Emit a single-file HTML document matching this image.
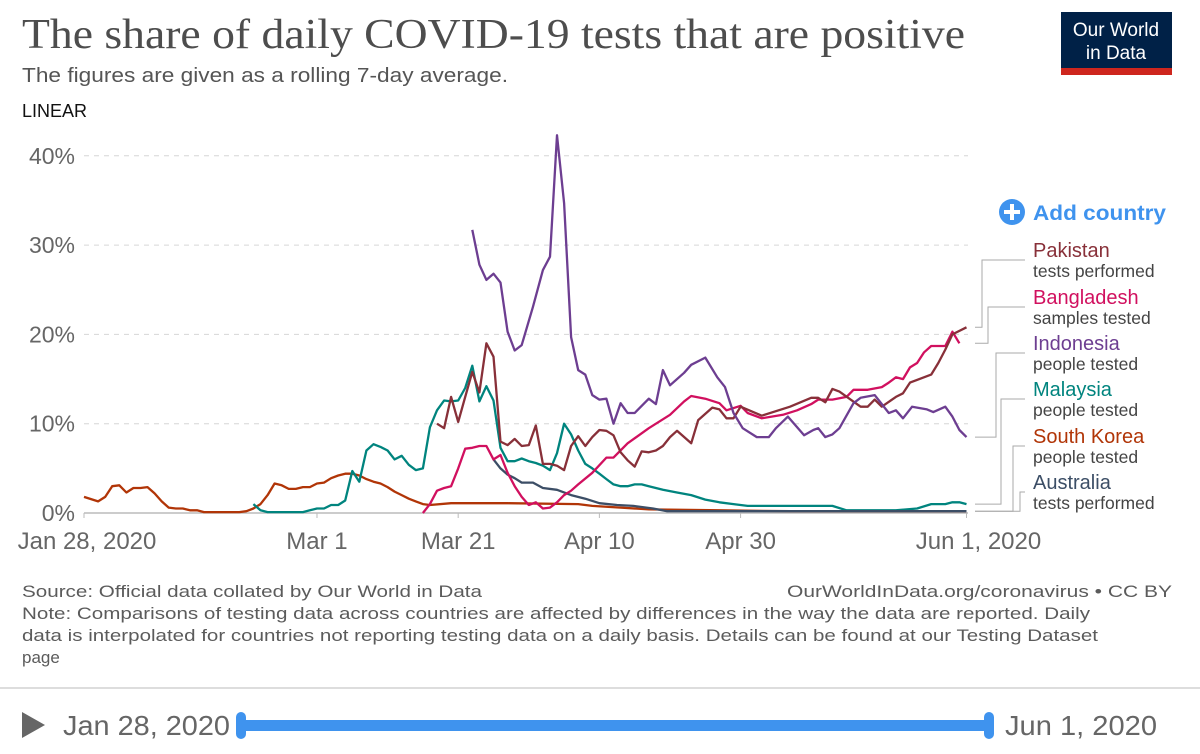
<!DOCTYPE html>
<html><head><meta charset="utf-8"><style>
body{margin:0;background:#fff;}
svg{display:block;font-family:"Liberation Sans",sans-serif;}
</style></head><body>
<svg id="chart" width="1200" height="754" viewBox="0 0 1200 754">
<text x="22" y="48" font-family="Liberation Serif, serif" font-size="42" fill="#4d4d4d" textLength="943" lengthAdjust="spacingAndGlyphs">The share of daily COVID-19 tests that are positive</text>
<text x="22" y="82" font-size="20" fill="#555" textLength="486" lengthAdjust="spacingAndGlyphs">The figures are given as a rolling 7-day average.</text>
<text x="22" y="117" font-size="18" fill="#111">LINEAR</text>
<g>
<rect x="1061" y="12" width="111" height="63" fill="#002147"/>
<rect x="1061" y="68" width="111" height="7" fill="#ce261e"/>
<text x="1116" y="36" font-size="19" fill="#fff" text-anchor="middle">Our World</text>
<text x="1116" y="59" font-size="19" fill="#fff" text-anchor="middle">in Data</text>
</g>
<g>
<circle cx="1012" cy="212" r="13" fill="#3f93ee"/>
<rect x="1004" y="210" width="16" height="4" fill="#fff"/>
<rect x="1010" y="204" width="4" height="16" fill="#fff"/>
<text x="1033" y="220" font-size="21" font-weight="bold" fill="#3f93ee" textLength="133" lengthAdjust="spacingAndGlyphs">Add country</text>
</g>
<g id="grid"></g>
<g id="axes"></g>
<g id="lines"></g>
<g id="legend"></g>
<text x="22" y="597" font-size="17" fill="#5b5b5b" textLength="460" lengthAdjust="spacingAndGlyphs">Source: Official data collated by Our World in Data</text>
<text x="1172" y="597" font-size="17" fill="#5b5b5b" text-anchor="end" textLength="385" lengthAdjust="spacingAndGlyphs">OurWorldInData.org/coronavirus • CC BY</text>
<g font-size="17" fill="#5b5b5b">
<text x="22" y="619" textLength="1068" lengthAdjust="spacingAndGlyphs">Note: Comparisons of testing data across countries are affected by differences in the way the data are reported. Daily</text>
<text x="22" y="641" textLength="1076" lengthAdjust="spacingAndGlyphs">data is interpolated for countries not reporting testing data on a daily basis. Details can be found at our Testing Dataset</text>
<text x="22" y="663">page</text>
</g>
<rect x="0" y="687" width="1200" height="2" fill="#ddd"/>
<polygon points="22,712 22,738 45,725" fill="#666"/>
<text x="63" y="735" font-size="28" fill="#666" textLength="167" lengthAdjust="spacingAndGlyphs">Jan 28, 2020</text>
<rect x="240" y="720" width="750" height="11" rx="3" fill="#3f93ee"/>
<rect x="236" y="712" width="10" height="27" rx="5" fill="#3f93ee"/>
<rect x="984" y="712" width="10" height="27" rx="5" fill="#3f93ee"/>
<text x="1005" y="735" font-size="28" fill="#666" textLength="152" lengthAdjust="spacingAndGlyphs">Jun 1, 2020</text>
</svg>
<script>
const yTicks = [0, 10, 20, 30, 40];
const xTickDays = [0, 33, 53, 73, 93, 125];
const xTickLabels = ["Jan 28, 2020", "Mar 1", "Mar 21", "Apr 10", "Apr 30", "Jun 1, 2020"];

const skDays = [0,2,3,4,5,6,7,8,9,10,11,12,13,14,15,16,17,18,22,23,24,25,26,27,28,29,30,31,32,33,34,35,36,37,38,39,40,41,42,43,44,45,46,47,48,49,52,60,70,72,76,80,90,100,125];
const skVals = [1.8,1.3,1.8,3.0,3.1,2.3,2.8,2.8,2.9,2.2,1.3,0.6,0.5,0.5,0.3,0.3,0.1,0.1,0.1,0.2,0.5,1.0,2.0,3.3,3.1,2.7,2.7,2.9,2.9,3.3,3.4,3.9,4.2,4.4,4.4,4.2,3.8,3.5,3.3,2.9,2.4,2.0,1.6,1.3,1.0,0.9,1.1,1.1,1.0,0.8,0.6,0.4,0.3,0.2,0.2];

const myDays = [24,25,26,31,32,33,34,35,36,37,38,39,40,41,42,43,44,45,46,47,48,49,50,51,52,53,54,55,56,57,58,59,60,61,62,63,64,65,66,67,68,69,70,71,72,73,74,75,76,77,78,79,80,82,84,86,88,90,92,94,100,106,108,115,118,120,122,123,124,125];
const myVals = [1.0,0.3,0.1,0.1,0.3,0.5,0.5,0.9,0.9,1.4,4.7,3.5,7.0,7.7,7.4,7.0,6.0,6.4,5.4,4.8,5.0,9.6,11.5,12.6,12.5,12.6,14.0,16.5,12.5,14.2,12.6,7.3,5.8,5.8,6.1,5.8,5.6,5.3,4.8,6.7,10.0,8.8,7.0,5.5,5.0,4.4,3.8,3.2,3.0,3.0,3.2,3.2,3.0,2.6,2.3,2.0,1.5,1.2,1.0,0.8,0.8,0.8,0.3,0.3,0.5,1.0,1.0,1.2,1.2,1.0];

const pkDays = [50,51,52,53,54,55,56,57,58,59,60,61,62,63,64,65,66,67,68,69,70,71,72,73,74,75,76,77,78,79,80,81,82,83,84,86,87,89,90,91,92,93,96,100,103,104,105,106,107,110,111,112,113,115,116,117,120,121,122,123,125];
const pkVals = [10.0,9.5,13.0,10.2,13.0,15.8,13.5,19.0,17.5,8.0,7.6,8.3,7.5,7.6,9.8,5.5,5.5,5.3,4.8,7.5,8.6,7.5,8.5,9.3,9.2,8.7,6.8,5.9,5.2,6.9,6.8,7.0,7.5,8.5,9.2,7.8,10.4,11.8,11.6,10.6,10.6,11.9,10.9,11.9,12.9,12.9,12.4,13.9,13.6,11.9,11.9,12.7,11.9,13.0,13.4,14.6,15.5,16.8,18.3,20.0,20.8];

const bdDays = [48,49,50,51,52,53,54,55,56,57,58,59,60,61,62,63,64,65,66,67,68,69,70,72,74,75,77,80,83,85,86,88,90,91,93,94,96,99,101,103,104,106,108,109,111,113,114,115,116,117,118,119,120,122,123,124];
const bdVals = [0,1.0,2.5,2.8,3.0,5.0,7.2,7.3,7.5,7.5,6.0,6.5,4.5,3.0,1.8,0.9,1.2,0.5,0.6,1.2,2.0,2.5,3.2,4.5,6.2,6.2,7.8,9.5,11.0,12.5,13.1,12.8,12.3,11.5,12.0,11.2,10.6,11.0,11.5,12.2,12.7,12.7,13.0,13.8,13.8,14.1,14.6,15.2,15.0,16.3,16.8,18.0,18.7,18.7,20.3,19.0];

const idDays = [55,56,57,58,59,60,61,62,63.6,65,66,67,68,69,70,71,72,73,74,75,76,77,78,80,81,82,83,85,86,88,89.7,90.8,92,93.3,95.3,97,98,99.7,102,103.3,104,105,106,107,109,110,112,114,115,116,117.3,119.4,120.3,122,123,124,125];
const idVals = [31.7,27.8,26.1,26.8,25.8,20.3,18.2,18.8,23.1,27.2,28.7,42.3,34.7,19.7,16.0,15.5,13.2,12.7,12.8,10.0,12.3,11.2,11.2,12.8,12.2,16.0,14.3,15.7,16.6,17.4,15.2,14.1,11.2,9.5,8.5,8.5,9.5,10.8,8.7,9.3,9.5,8.5,8.8,9.5,12.3,12.9,13.2,11.2,11.5,10.6,11.9,11.6,11.3,11.9,10.8,9.3,8.5];

const auDays = [58,59,60,61,62,63.6,65,67,69,71,73,75.5,77.8,80.6,82.6,125];
const auVals = [6.0,5.0,4.3,3.9,3.4,3.4,2.8,2.6,2.0,1.6,1.1,0.9,0.8,0.5,0.2,0.2];

const seriesNames = ["South Korea","Malaysia","Australia","Bangladesh","Pakistan","Indonesia"];
const seriesSubs = ["people tested","people tested","tests performed","samples tested","tests performed","people tested"];

const X0 = 84, DX = 7.06, Y0 = 513, DY = 8.93;
function xScale(d){ return X0 + d * DX; }
function yScale(v){ return Y0 - v * DY; }
const NS = "http://www.w3.org/2000/svg";
function mk(tag, attrs, parent){ const e = document.createElementNS(NS, tag); for (const k in attrs) e.setAttribute(k, attrs[k]); parent.appendChild(e); return e; }

const grid = document.getElementById('grid');
yTicks.forEach(t => {
  if (t > 0) {
    const l = mk('line', {x1: X0, x2: 968, y1: yScale(t), y2: yScale(t), stroke: '#d6d6d6', 'stroke-dasharray': '5,5', 'stroke-width': 1}, grid);
    
    
  }
  const tx = mk('text', {x: 75, y: yScale(t) + 8, 'font-size': 23, fill: '#666', 'text-anchor': 'end'}, grid);
  tx.textContent = t + '%';
  
  
});
const axes = document.getElementById('axes');
const base = mk('line', {x1: X0, x2: 968, y1: Y0, y2: Y0, stroke: '#bbb', 'stroke-width': 1.5}, axes);


xTickDays.forEach((d, i) => {
  const tk = mk('line', {x1: xScale(d), x2: xScale(d), y1: Y0, y2: Y0 + 5, stroke: '#bbb'}, axes);
  
  
  let xx = xScale(d);
  if (i === xTickDays.length - 1) xx += 12;
  if (i === 0) xx += 3;
  const tx = mk('text', {x: xx, y: 549, 'font-size': 24, fill: '#666', 'text-anchor': 'middle'}, axes);
  tx.textContent = xTickLabels[i];
  
  
});

const lines = document.getElementById('lines');
const series = [
  [skDays, skVals, '#b13507', 'south-korea'],
  [myDays, myVals, '#00847e', 'malaysia'],
  [auDays, auVals, '#3c4e66', 'australia'],
  [bdDays, bdVals, '#d1105f', 'bangladesh'],
  [pkDays, pkVals, '#883039', 'pakistan'],
  [idDays, idVals, '#6d3e91', 'indonesia']
];
series.forEach(s => {
  const pts = s[0].map((d, i) => xScale(d).toFixed(1) + ',' + yScale(s[1][i]).toFixed(1)).join(' ');
  const p = mk('polyline', {points: pts, fill: 'none', stroke: s[2], 'stroke-width': 2.3, 'stroke-linejoin': 'round'}, lines);
  
  
});

const legend = document.getElementById('legend');
const legendOrder = [4, 3, 5, 1, 0, 2];
const legendY = [257, 304, 350, 396, 443, 489];
const connX = [982, 988, 996, 1001, 1013, 1020];
legendOrder.forEach((si, k) => {
  const s = series[si];
  const ends = s[0].length - 1;
  const ey = yScale(s[1][ends]);
  const ly = legendY[k] + 3;
  const c = mk('polyline', {points: `975,${ey.toFixed(1)} ${connX[k]},${ey.toFixed(1)} ${connX[k]},${ly} 1025,${ly}`, fill: 'none', stroke: '#aaa', 'stroke-width': 1}, legend);
  
  
  const t = mk('text', {x: 1033, y: legendY[k], 'font-size': 20, fill: s[2]}, legend);
  t.textContent = seriesNames[si];
  
  
  const t2 = mk('text', {x: 1033, y: legendY[k] + 20, 'font-size': 17.5, fill: '#444'}, legend);
  t2.textContent = seriesSubs[si];
  
  
});
</script>
</body></html>
